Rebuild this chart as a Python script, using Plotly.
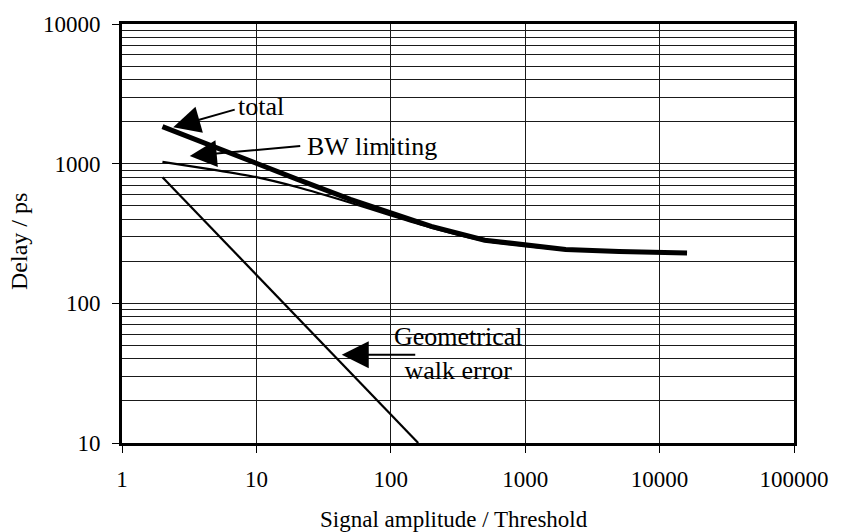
import plotly.graph_objects as go

# ---- data ----
amp_total = [2, 5, 10, 20, 50, 100, 200, 500, 1000, 2000, 5000, 10000, 16000]
delay_total = [1840, 1297, 1000, 776, 556, 442, 356, 283, 260, 243, 235, 231, 229]

amp_bw = [2, 5, 10, 20, 50, 100, 200, 500, 1000, 2000, 5000, 10000, 16000]
delay_bw = [1030, 900, 800, 680, 525, 425, 348, 280, 258, 242, 234, 231, 229]

amp_geom = [2, 10, 100, 160]
delay_geom = [800, 160, 16, 10]

x_tickvals = [1, 10, 100, 1000, 10000, 100000]
x_ticktext = ["1", "10", "100", "1000", "10000", "100000"]
y_tickvals = [10, 100, 1000, 10000]
y_ticktext = ["10", "100", "1000", "10000"]

FONT = "Liberation Serif"
GRID = "#1a1a1a"

fig = go.Figure()
fig.add_trace(go.Scatter(x=amp_geom, y=delay_geom, mode="lines",
                         line=dict(color="black", width=2.2), name="Geometrical walk error"))
fig.add_trace(go.Scatter(x=amp_bw, y=delay_bw, mode="lines",
                         line=dict(color="black", width=2.2, shape="spline", smoothing=0.6),
                         name="BW limiting"))
fig.add_trace(go.Scatter(x=amp_total, y=delay_total, mode="lines",
                         line=dict(color="black", width=5), name="total"))

fig.update_layout(
    width=841, height=532,
    margin=dict(l=122, r=37, t=23, b=89),
    paper_bgcolor="white", plot_bgcolor="white",
    showlegend=False,
    font=dict(family=FONT, size=23, color="black"),
)

fig.update_xaxes(
    type="log", range=[0, 5],
    tickvals=x_tickvals, ticktext=x_ticktext,
    showgrid=True, gridcolor=GRID, gridwidth=1,
    showline=True, linecolor="black", linewidth=3, mirror=True,
    ticks="outside", ticklen=7, tickwidth=1, tickcolor="black",
    ticklabelstandoff=6,
    zeroline=False,
)
fig.update_yaxes(
    type="log", range=[1, 4],
    tickvals=y_tickvals, ticktext=y_ticktext,
    showgrid=True, gridcolor=GRID, gridwidth=1,
    minor=dict(dtick="D1", showgrid=True, gridcolor=GRID, gridwidth=1, ticks=""),
    showline=True, linecolor="black", linewidth=3, mirror=True,
    ticks="outside", ticklen=7, tickwidth=1, tickcolor="black",
    ticklabelstandoff=7,
    zeroline=False,
)

ann_font = dict(family=FONT, size=26, color="black")
# arrows (tip at x,y in log10 data units; tail offset in px)
arrows = [
    (0.381, 3.261, 63, -18),   # total
    (0.504, 3.055, 112, -10),  # BW limiting
    (1.635, 1.632, 75, 0),     # geometrical
]
for ax_, ay_, dx, dy in arrows:
    fig.add_annotation(x=ax_, y=ay_, xref="x", yref="y", text="",
                       showarrow=True, arrowhead=2, arrowsize=2.7, arrowwidth=2,
                       arrowcolor="black", ax=dx, ay=dy)

fig.add_annotation(x=0.850, y=3.411, xref="x", yref="y", text="total",
                   showarrow=False, xanchor="left", yanchor="middle", font=ann_font)
fig.add_annotation(x=1.364, y=3.126, xref="x", yref="y", text="BW limiting",
                   showarrow=False, xanchor="left", yanchor="middle", font=ann_font)
fig.add_annotation(x=2.507, y=1.639, xref="x", yref="y", text="Geometrical<br>walk error",
                   showarrow=False, xanchor="center", yanchor="middle", align="center",
                   font=ann_font)

# axis titles
fig.add_annotation(x=0.494, y=-0.183, xref="paper", yref="paper",
                   text="Signal amplitude / Threshold", showarrow=False,
                   xanchor="center", yanchor="middle", font=dict(family=FONT, size=23))
fig.add_annotation(x=-0.1525, y=0.481, xref="paper", yref="paper",
                   text="Delay / ps", showarrow=False, textangle=-90,
                   xanchor="center", yanchor="middle", font=dict(family=FONT, size=24))

fig.write_html("out.html")
